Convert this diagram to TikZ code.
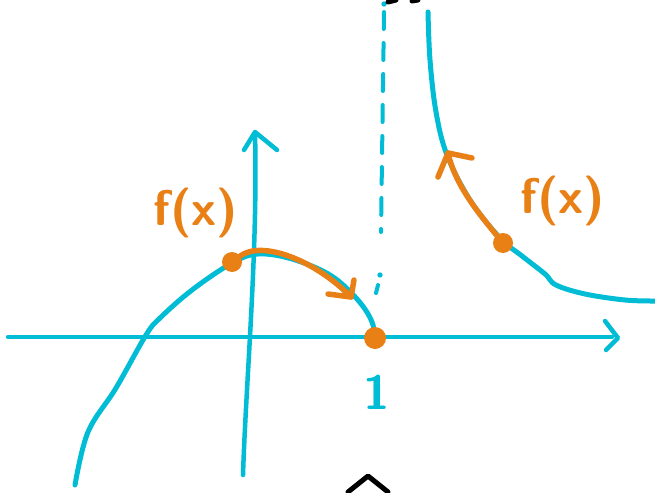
\documentclass[tikz,border=0pt]{standalone}
\usepackage{xcolor}
\usepackage{tikz}
\usetikzlibrary{arrows.meta}
\definecolor{skcyan}{RGB}{0,188,212}
\definecolor{skorange}{RGB}{232,128,22}

\begin{document}
\begin{tikzpicture}[x=1pt,y=-1pt,line cap=round,line join=round,
  axis/.style={skcyan,line width=4.5pt},
  graph/.style={skcyan,line width=5pt},
  flow/.style={skorange,line width=5.5pt},
  spot/.style={circle,fill=skorange,inner sep=0pt,minimum size=20pt},
  lbl/.style={skorange,font=\fontsize{50}{50}\sffamily\bfseries}]
  \useasboundingbox (0,0) rectangle (655,492);

  % axes
  \draw[axis] (8,337) -- (612,337);
  \draw[axis] (605,321) -- (618,338) -- (606,350);
  \draw[axis] (243,475) .. controls (246,380) and (258,250) .. (255,133);
  \draw[axis] (244,150) -- (255,132) -- (277,150);
  \node[skcyan,font=\fontsize{48}{48}\sffamily\bfseries] (one) at (377,392) {1};

  % asymptote x = 1
  \draw[axis,line width=4pt,dash pattern=on 17pt off 14pt] (384,12) -- (381,232);
  \fill[skcyan] (384,4) circle (2.7pt) (380,275) circle (2.7pt);
  \draw[axis,line width=4pt] (378,285) -- (376,293);

  % left branch
  \draw[graph] plot[smooth,tension=0.6] coordinates {(75,485) (88,432) (116,388)
    (146,335) (160,318) (192,290) (232,263) (258,254) (292,259) (330,275)
    (357,299) (372,322) (376,345)};

  % right branch
  \draw[graph] plot[smooth,tension=0.6] coordinates {(428,12) (430,60) (436,112)
    (447,155) (470,200) (500,238) (522,256) (545,274) (556,285) (585,294)
    (625,300) (655,301)};

  % orange flows along the curve
  \node[spot] (pA) at (232,262) {};
  \node[spot,minimum size=22pt] (pOne) at (375,338) {};
  \node[spot] (pB) at (503,243) {};
  \coordinate (tipA) at (351,297);
  \coordinate (tipB) at (448,153);
  \draw[flow] (pA) .. controls (262,240) and (315,260) .. (tipA);
  \draw[flow] (328,294) -- (tipA) -- (354,280);
  \draw[flow] (pB) .. controls (480,215) and (455,185) .. (tipB);
  \draw[flow] (438,177) -- (tipB) -- (472,158);

  % labels
  \node[lbl] (fLeft) at (196,213) {f(x)};
  \node[lbl] (fRight) at (563,201) {f(x)};

  % cut-off black strokes at the edges
  \draw[line width=5pt] (388,2) -- (396,0) (412,1) -- (418,0);
  \draw[line width=5pt] (348,492) -- (368,476) -- (388,492);
\end{tikzpicture}
\end{document}
